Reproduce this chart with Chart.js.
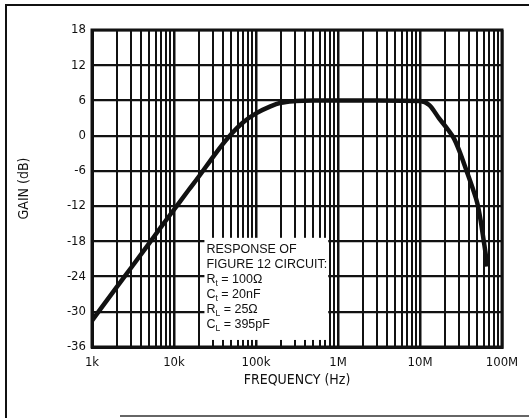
<!DOCTYPE html>
<html>
<head>
<meta charset="utf-8">
<script src="https://cdn.jsdelivr.net/npm/chart.js@4/dist/chart.umd.min.js"></script>
<style>
html, body { margin: 0; padding: 0; background: #fff; }
#wrap { width: 529px; height: 418px; position: relative; }
</style>
</head>
<body>
<div id="wrap"><canvas id="myChart"></canvas></div>
<script>
// curva: frecuencia (Hz) y ganancia (dB)
const freq = [1e3, 2e3, 3e3, 5e3, 7e3, 1e4, 1.5e4, 2e4, 3e4, 4e4, 5e4, 7e4, 1e5, 1.5e5, 2e5, 3e5, 5e5,
              1e6, 3e6, 1e7, 1.3e7, 1.7e7, 2.2e7, 2.6e7, 3e7, 3.7e7, 4.4e7, 5e7, 5.5e7, 6e7, 6.3e7, 6.6e7];
const gain = [-31.5, -25.8, -22.5, -18.3, -15.5, -12.6, -9.3, -7, -3.6, -1.3, 0.3, 2.3, 3.8, 5, 5.6, 5.9, 6,
              6, 6, 5.9, 5.2, 3, 1, -0.5, -2.5, -6, -9, -11.5, -14.5, -18, -20, -22.3];

const decades = [1e3, 1e4, 1e5, 1e6, 1e7, 1e8];
const decadeLabels = ['1k', '10k', '100k', '1M', '10M', '100M'];
const minorSteps = [2, 3, 4, 5, 6, 7, 8, 9];
const gainTicks = [-36, -30, -24, -18, -12, -6, 0, 6, 12, 18];

// texto del recuadro: [texto, subindice, resto]
const noteLines = [
  ['RESPONSE OF', '', ''],
  ['FIGURE 12 CIRCUIT:', '', ''],
  ['R', 't', ' = 100\u03A9'],
  ['C', 't', ' = 20nF'],
  ['R', 'L', ' = 25\u03A9'],
  ['C', 'L', ' = 395pF']
];

const narrow = "'Liberation Sans Narrow', 'DejaVu Sans Condensed', Arial, sans-serif";
const ink = '#111';

const freqTicks = [];
decades.forEach((d, i) => {
  freqTicks.push(d);
  if (i < decades.length - 1) minorSteps.forEach(m => freqTicks.push(d * m));
});

const marco = {
  id: 'marco',
  beforeDraw(chart) {
    const c = chart.ctx;
    c.save();
    c.fillStyle = '#fff';
    c.fillRect(0, 0, chart.width, chart.height);
    c.strokeStyle = ink;
    c.lineWidth = 2;
    c.beginPath();
    c.moveTo(6, chart.height);
    c.lineTo(6, 5);
    c.lineTo(chart.width, 5);
    c.stroke();
    c.strokeStyle = '#666';
    c.beginPath();
    c.moveTo(120, 416);
    c.lineTo(chart.width, 416);
    c.stroke();
    c.restore();
  },
  beforeDatasetsDraw(chart) {
    const c = chart.ctx;
    const x = chart.scales.x, y = chart.scales.y;
    const a = chart.chartArea;
    const left = x.getPixelForValue(2.35e4), right = x.getPixelForValue(7.6e5);
    const top = y.getPixelForValue(-17.4), bottom = y.getPixelForValue(-34.8);
    c.save();
    c.fillStyle = '#fff';
    c.fillRect(left, top, right - left, bottom - top);
    // texto
    c.fillStyle = ink;
    c.textBaseline = 'alphabetic';
    noteLines.forEach((ln, i) => {
      let px = left + 2;
      const py = top + 15.5 + i * 14.9;
      c.font = '12.5px Arial, sans-serif';
      c.fillText(ln[0], px, py);
      px += c.measureText(ln[0]).width;
      if (ln[1]) {
        c.font = '8.5px Arial, sans-serif';
        c.fillText(ln[1], px, py + 3);
        px += c.measureText(ln[1]).width;
        c.font = '12.5px Arial, sans-serif';
      }
      c.fillText(ln[2], px, py);
    });
    // borde grueso del area
    c.strokeStyle = ink;
    c.lineWidth = 3;
    c.strokeRect(a.left, a.top, a.right - a.left, a.bottom - a.top);
    c.restore();
  }
};

let myChart = document.getElementById('myChart').getContext('2d');

let grafico = new Chart(myChart, {
  type: 'line',
  data: {
    datasets: [{
      data: freq.map((f, i) => ({ x: f, y: gain[i] })),
      borderColor: ink,
      borderWidth: 4.5,
      pointRadius: 0,
      cubicInterpolationMode: 'monotone',
      fill: false
    }]
  },
  options: {
    responsive: true,
    maintainAspectRatio: false,
    animation: false,
    layout: { padding: { left: 16, right: 27, top: 30, bottom: 29 } },
    plugins: {
      legend: { display: false },
      tooltip: { enabled: false }
    },
    scales: {
      x: {
        type: 'logarithmic',
        min: 1e3,
        max: 1e8,
        afterBuildTicks(scale) {
          scale.ticks = freqTicks.map(v => ({ value: v }));
        },
        afterFit(scale) { scale.height = 42; },
        grid: {
          color: ink,
          lineWidth: ctx => (decades.includes(ctx.tick && ctx.tick.value) ? 2.5 : 2),
          drawTicks: false
        },
        border: { color: ink, width: 3 },
        ticks: {
          autoSkip: false,
          maxRotation: 0,
          padding: 8,
          color: ink,
          font: { family: narrow, size: 13 },
          callback(v) {
            const i = decades.indexOf(v);
            return i >= 0 ? decadeLabels[i] : '';
          }
        },
        title: {
          display: true,
          text: 'FREQUENCY (Hz)',
          color: ink,
          padding: 0,
          font: { family: narrow, size: 14 }
        }
      },
      y: {
        min: -36,
        max: 18,
        afterBuildTicks(scale) {
          scale.ticks = gainTicks.map(v => ({ value: v }));
        },
        afterFit(scale) { scale.width = 76; },
        grid: { color: ink, lineWidth: 2.2, drawTicks: false },
        border: { color: ink, width: 3 },
        ticks: {
          padding: 6,
          color: ink,
          font: { family: narrow, size: 13 }
        },
        title: {
          display: true,
          text: 'GAIN (dB)',
          color: ink,
          padding: 0,
          font: { family: narrow, size: 14 }
        }
      }
    }
  },
  plugins: [marco]
});
</script>
</body>
</html>
